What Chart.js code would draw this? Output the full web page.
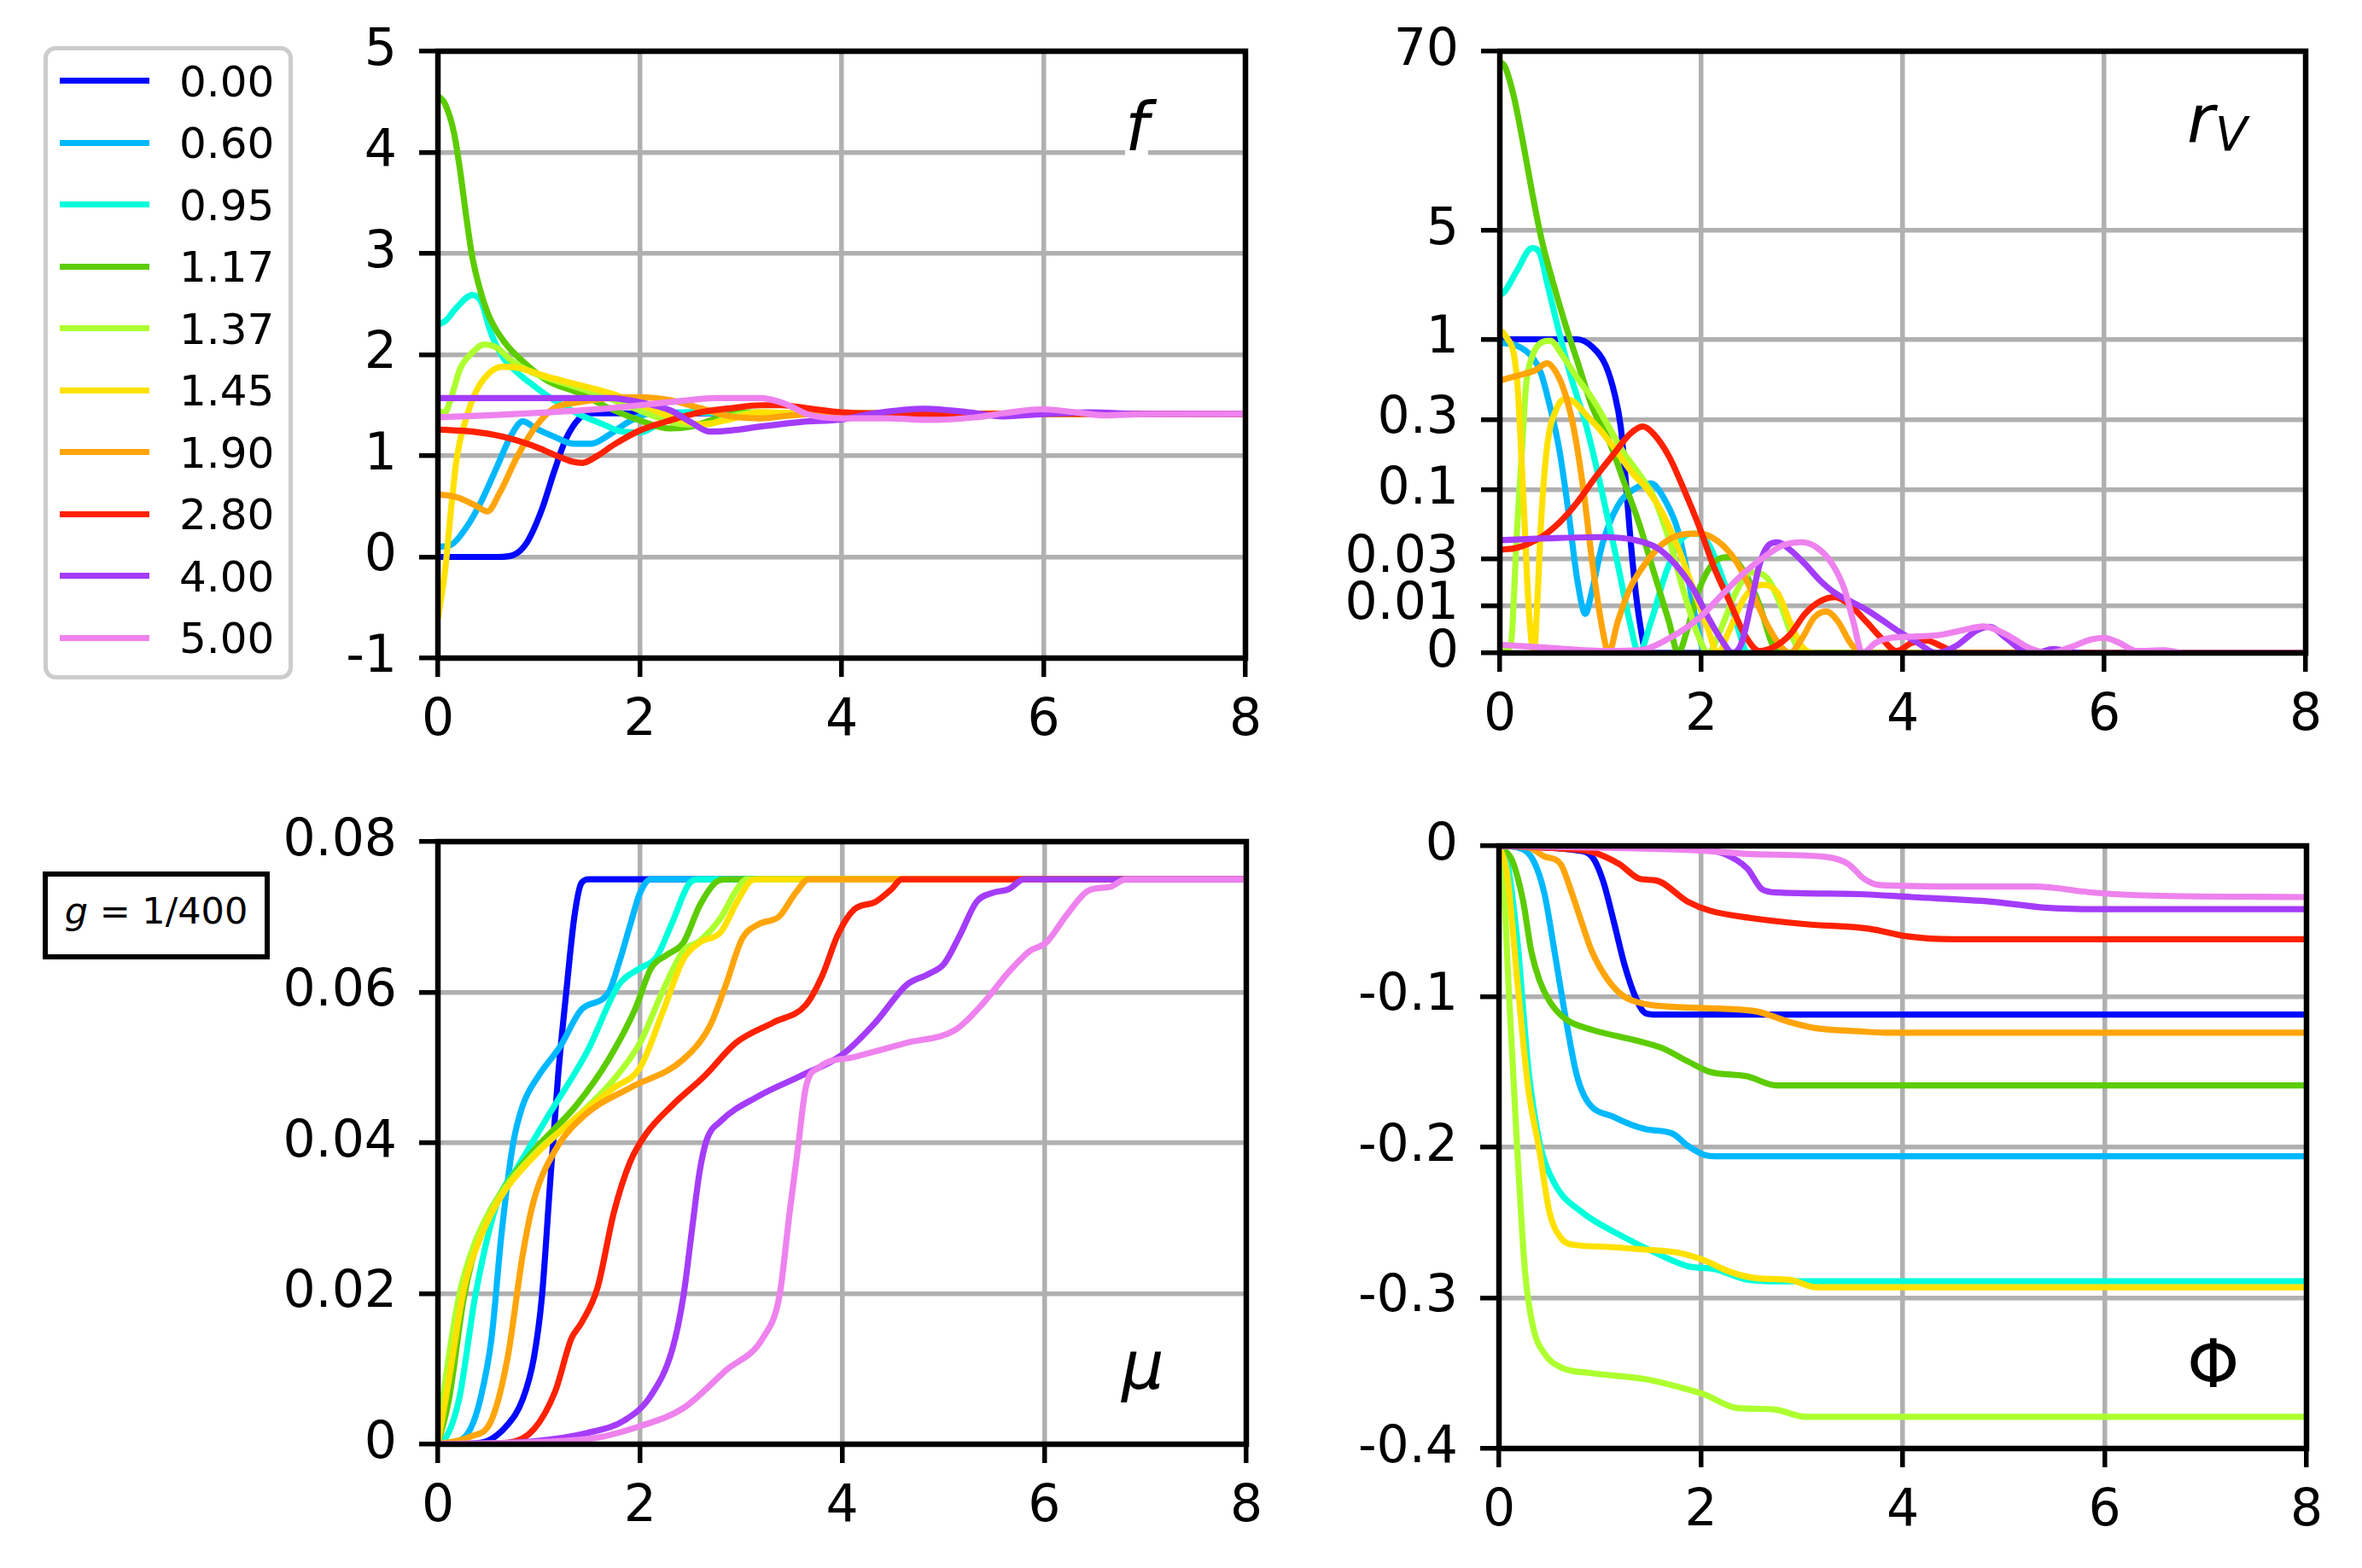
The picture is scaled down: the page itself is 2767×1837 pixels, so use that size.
<!DOCTYPE html>
<html>
<head>
<meta charset="utf-8">
<script src="https://cdn.jsdelivr.net/npm/chart.js@4/dist/chart.umd.min.js"></script>
<style>
  body { margin: 0; background: #fff; }
  #page { position: relative; width: 2767px; height: 1837px; background: #fff; overflow: hidden; font-family: 'DejaVu Sans', sans-serif; color: #000; }
  #page canvas { position: absolute; }
  .lbl { position: absolute; font-size: 78px; line-height: 78px; white-space: nowrap; background: #fff; }
  .sub { position: absolute; font-size: 55px; line-height: 55px; font-style: italic; white-space: nowrap; }
  #legend { position: absolute; left: 51px; top: 54px; width: 292px; height: 742px; box-sizing: border-box; border: 5px solid #cccccc; border-radius: 14px; background: #fff; }
  .legLine { position: absolute; left: 70px; width: 105px; height: 7px; }
  .legTxt { position: absolute; left: 210px; font-size: 50px; line-height: 50px; white-space: nowrap; }
  #gbox { position: absolute; left: 50px; top: 1021px; width: 266px; height: 103px; box-sizing: border-box; border: 6px solid #000; background: #fff; }
  #gbox span { position: absolute; left: 0; width: 100%; top: 19px; text-align: center; font-size: 43px; line-height: 43px; white-space: nowrap; }
</style>
</head>
<body>
<div id="page"><div id="charts"></div></div>
<script>
// series names and colours
const seriesLabels = ['0.00', '0.60', '0.95', '1.17', '1.37', '1.45', '1.90', '2.80', '4.00', '5.00'];
const seriesColors = ['#0008ff', '#00b8ff', '#00ffdc', '#5ccc00', '#adff2f', '#ffe100', '#ffa50a', '#ff2100', '#a43cfa', '#ee82ee'];

const xTicks = [0, 2, 4, 6, 8];
const rvTickValues = [0, 0.01, 0.03, 0.1, 0.3, 1, 5, 70];

// ---- f ----
const f000 = [[0,0],[0.6,0],[0.75,0.02],[0.88,0.14],[1.03,0.47],[1.15,0.84],[1.27,1.17],[1.4,1.37],[1.5,1.42],[2,1.42],[3,1.42],[4,1.415],[8,1.414]];
const f060 = [[0,0.1],[0.13,0.12],[0.28,0.29],[0.43,0.55],[0.58,0.88],[0.73,1.21],[0.84,1.34],[0.97,1.27],[1.15,1.19],[1.34,1.12],[1.52,1.12],[1.7,1.21],[1.88,1.33],[2.06,1.41],[2.5,1.43],[3,1.42],[8,1.414]];
const f095 = [[0,2.3],[0.07,2.33],[0.19,2.47],[0.34,2.59],[0.43,2.52],[0.52,2.23],[0.64,1.98],[0.79,1.82],[0.94,1.7],[1.15,1.55],[1.4,1.41],[1.64,1.31],[1.82,1.24],[2.0,1.23],[2.18,1.31],[2.45,1.43],[3,1.42],[8,1.414]];
const f117 = [[0,4.56],[0.07,4.48],[0.16,4.19],[0.22,3.82],[0.28,3.37],[0.34,2.97],[0.43,2.6],[0.52,2.35],[0.67,2.11],[0.88,1.9],[1.09,1.74],[1.4,1.62],[1.7,1.47],[2.0,1.35],[2.3,1.27],[2.51,1.29],[2.76,1.37],[3.06,1.43],[3.5,1.42],[8,1.414]];
const f137 = [[0,1.44],[0.07,1.43],[0.13,1.57],[0.22,1.86],[0.34,2.02],[0.46,2.1],[0.58,2.07],[0.73,1.94],[0.94,1.82],[1.24,1.72],[1.55,1.62],[1.85,1.51],[2.15,1.39],[2.45,1.31],[2.66,1.31],[2.9,1.39],[3.2,1.43],[3.6,1.42],[8,1.414]];
const f145 = [[0,-0.61],[0.07,-0.14],[0.13,0.47],[0.19,1.0],[0.28,1.37],[0.37,1.62],[0.49,1.8],[0.64,1.88],[0.79,1.87],[1.09,1.78],[1.4,1.7],[1.7,1.62],[2.0,1.51],[2.3,1.39],[2.6,1.31],[2.85,1.35],[3.2,1.43],[3.6,1.42],[8,1.414]];
const f190 = [[0,0.62],[0.19,0.59],[0.37,0.51],[0.49,0.45],[0.61,0.63],[0.79,1.0],[0.97,1.29],[1.15,1.47],[1.4,1.53],[1.7,1.57],[2.0,1.58],[2.3,1.55],[2.6,1.47],[2.9,1.39],[3.2,1.37],[3.5,1.4],[4,1.42],[8,1.414]];
const f280 = [[0,1.26],[0.34,1.24],[0.64,1.19],[0.94,1.1],[1.18,1.0],[1.34,0.94],[1.43,0.93],[1.58,1.0],[1.76,1.12],[2.0,1.25],[2.3,1.35],[2.6,1.43],[2.9,1.47],[3.2,1.5],[3.4,1.5],[3.66,1.47],[4.0,1.43],[4.4,1.42],[5,1.414],[8,1.414]];
const f400 = [[0,1.57],[1.0,1.57],[1.7,1.57],[2.0,1.53],[2.3,1.45],[2.51,1.33],[2.69,1.24],[2.9,1.25],[3.2,1.29],[3.6,1.335],[4.0,1.36],[4.32,1.42],[4.83,1.466],[5.26,1.43],[5.6,1.39],[5.95,1.41],[6.46,1.43],[7,1.414],[8,1.414]];
const f500 = [[0,1.38],[0.49,1.4],[1.09,1.43],[1.7,1.47],[2.3,1.53],[2.76,1.57],[3.2,1.57],[3.45,1.51],[3.66,1.41],[4.0,1.37],[4.46,1.37],[4.89,1.355],[5.32,1.38],[5.6,1.42],[5.98,1.46],[6.32,1.43],[6.6,1.4],[7.03,1.413],[8,1.414]];

// ---- r_V ----
const r000 = [[0,1],[0.77,1],[0.92,0.89],[1.05,0.68],[1.14,0.44],[1.2,0.27],[1.24,0.14],[1.29,0.05],[1.35,0.0141],[1.41,0.003],[1.45,0],[8,0]];
const r060 = [[0,0.95],[0.17,0.91],[0.32,0.77],[0.41,0.6],[0.5,0.36],[0.59,0.19],[0.68,0.071],[0.77,0.019],[0.85,0.0078],[0.91,0.0141],[1.02,0.04],[1.17,0.077],[1.32,0.1],[1.5,0.111],[1.65,0.082],[1.77,0.05],[1.86,0.0227],[1.95,0.0058],[2.04,0],[8,0]];
const r095 = [[0,1.92],[0.05,2.04],[0.17,2.76],[0.32,3.86],[0.4,3.53],[0.47,2.3],[0.59,1.1],[0.71,0.56],[0.86,0.27],[1.01,0.1],[1.17,0.027],[1.29,0.0058],[1.38,0],[1.5,0.0058],[1.65,0.0227],[1.8,0.043],[1.95,0.048],[2.07,0.04],[2.22,0.019],[2.37,0.004],[2.46,0],[8,0]];
const r117 = [[0,60],[0.05,56],[0.14,35.7],[0.23,18.3],[0.32,8.8],[0.41,4.51],[0.53,2.3],[0.65,1.25],[0.77,0.72],[0.92,0.36],[1.08,0.22],[1.23,0.115],[1.38,0.058],[1.53,0.0227],[1.68,0.0058],[1.77,0],[1.86,0.004],[1.98,0.0157],[2.13,0.0281],[2.28,0.031],[2.43,0.0227],[2.58,0.0101],[2.7,0.0016],[2.79,0],[8,0]];
const r137 = [[0,0],[0.05,0.0003],[0.11,0.0015],[0.17,0.05],[0.22,0.19],[0.26,0.5],[0.32,0.77],[0.41,0.95],[0.5,0.98],[0.62,0.79],[0.77,0.56],[0.92,0.41],[1.08,0.27],[1.23,0.18],[1.38,0.13],[1.53,0.088],[1.68,0.043],[1.83,0.0141],[1.98,0.0024],[2.07,0],[2.19,0.004],[2.34,0.0141],[2.49,0.0227],[2.64,0.0208],[2.79,0.0101],[2.91,0.0024],[3.0,0],[8,0]];
const r145 = [[0,1.14],[0.05,1.07],[0.17,0.56],[0.23,0.1],[0.29,0.008],[0.34,0],[0.37,0.01],[0.41,0.06],[0.47,0.2],[0.56,0.35],[0.65,0.41],[0.74,0.39],[0.86,0.32],[1.01,0.25],[1.17,0.18],[1.32,0.13],[1.47,0.1],[1.62,0.067],[1.77,0.037],[1.92,0.0157],[2.07,0.004],[2.16,0],[2.28,0.004],[2.43,0.0127],[2.61,0.0173],[2.76,0.0141],[2.88,0.0058],[3.0,0.001],[3.12,0],[8,0]];
const r190 = [[0,0.54],[0.17,0.58],[0.35,0.63],[0.47,0.7],[0.56,0.61],[0.65,0.44],[0.74,0.25],[0.83,0.1],[0.92,0.027],[1.02,0.004],[1.08,0],[1.17,0.0058],[1.29,0.0157],[1.44,0.027],[1.62,0.04],[1.8,0.047],[1.98,0.048],[2.16,0.042],[2.34,0.029],[2.49,0.0157],[2.64,0.0058],[2.79,0.001],[2.88,0],[3.0,0.0024],[3.12,0.0068],[3.24,0.0084],[3.36,0.0058],[3.48,0.0016],[3.6,0],[8,0]];
const r280 = [[0,0.0357],[0.17,0.037],[0.41,0.045],[0.59,0.058],[0.77,0.082],[0.95,0.123],[1.14,0.18],[1.29,0.24],[1.42,0.27],[1.53,0.24],[1.68,0.17],[1.83,0.1],[1.98,0.054],[2.13,0.0248],[2.28,0.0114],[2.43,0.0031],[2.58,0.0003],[2.73,0.001],[2.88,0.0031],[3.03,0.0078],[3.18,0.0114],[3.33,0.0127],[3.48,0.0101],[3.64,0.0058],[3.79,0.0024],[3.94,0.0003],[4.09,0.0016],[4.24,0.002],[4.39,0.001],[4.54,0],[8,0]];
const r400 = [[0,0.0426],[0.47,0.044],[1.01,0.045],[1.32,0.043],[1.56,0.037],[1.74,0.027],[1.92,0.0157],[2.07,0.0068],[2.22,0.0016],[2.31,0],[2.4,0.0016],[2.49,0.0101],[2.58,0.027],[2.67,0.039],[2.76,0.041],[2.88,0.0357],[3.03,0.027],[3.18,0.019],[3.33,0.0141],[3.48,0.0114],[3.64,0.0089],[3.79,0.0063],[3.97,0.0036],[4.15,0.0016],[4.33,0],[4.52,0.001],[4.74,0.004],[4.86,0.0047],[5.03,0.0024],[5.19,0.0003],[5.31,0],[5.5,0.0006],[5.65,0.0002],[5.8,0],[8,0]];
const r500 = [[0,0.0013],[0.47,0.0008],[1.08,0.0003],[1.38,0.0004],[1.68,0.0024],[1.98,0.0068],[2.22,0.0141],[2.43,0.0227],[2.64,0.0318],[2.82,0.039],[3.0,0.041],[3.15,0.037],[3.3,0.027],[3.42,0.0157],[3.51,0.0058],[3.6,0],[3.73,0.0016],[3.88,0.0025],[4.09,0.0027],[4.39,0.0031],[4.6,0.004],[4.8,0.0048],[5.03,0.0031],[5.25,0.0008],[5.45,0],[5.65,0.0008],[5.87,0.0022],[6.0,0.0025],[6.15,0.0016],[6.32,0.0003],[6.6,0.0004],[6.8,0],[8,0]];

// ---- mu ----
const m000 = [[0,0],[0.42,0.0002],[0.69,0.0026],[0.84,0.006],[0.95,0.0115],[1.03,0.0197],[1.11,0.0346],[1.19,0.049],[1.27,0.06],[1.35,0.07],[1.42,0.0745],[1.5,0.075],[8,0.075]];
const m060 = [[0,0],[0.16,0.0002],[0.32,0.002],[0.42,0.006],[0.53,0.014],[0.63,0.028],[0.74,0.0396],[0.84,0.045],[1.0,0.049],[1.21,0.0528],[1.42,0.0577],[1.69,0.06],[1.79,0.0638],[1.9,0.0688],[2.0,0.0732],[2.11,0.075],[8,0.075]];
const m095 = [[0,0],[0.05,0.0003],[0.21,0.006],[0.37,0.0197],[0.58,0.0318],[0.79,0.0368],[1.11,0.044],[1.48,0.0522],[1.79,0.061],[2.0,0.0632],[2.16,0.0646],[2.32,0.0693],[2.48,0.0743],[2.59,0.075],[8,0.075]];
const m117 = [[0,0],[0.11,0.006],[0.26,0.0197],[0.42,0.028],[0.63,0.0335],[0.95,0.039],[1.37,0.045],[1.69,0.0511],[1.95,0.0577],[2.11,0.0632],[2.27,0.065],[2.43,0.0666],[2.59,0.0715],[2.74,0.0745],[2.85,0.075],[8,0.075]];
const m137 = [[0,0],[0.05,0.006],[0.21,0.0197],[0.37,0.0269],[0.58,0.0324],[0.95,0.0385],[1.37,0.0434],[1.74,0.0484],[2.0,0.0533],[2.22,0.06],[2.43,0.0655],[2.59,0.0668],[2.8,0.0699],[2.96,0.0737],[3.06,0.075],[8,0.075]];
const m145 = [[0,0],[0.11,0.0087],[0.26,0.0208],[0.42,0.0274],[0.63,0.033],[0.95,0.0382],[1.37,0.0434],[1.74,0.0473],[2.0,0.05],[2.22,0.0572],[2.43,0.0644],[2.59,0.0666],[2.8,0.068],[2.96,0.072],[3.11,0.0749],[3.17,0.075],[8,0.075]];
const m190 = [[0,0],[0.32,0.001],[0.53,0.0032],[0.69,0.0115],[0.84,0.0252],[0.95,0.0324],[1.16,0.039],[1.48,0.044],[1.9,0.0473],[2.43,0.0511],[2.69,0.0555],[2.85,0.061],[3.01,0.0671],[3.17,0.069],[3.38,0.0701],[3.54,0.0732],[3.67,0.075],[8,0.075]];
const m280 = [[0,0],[0.69,0.0002],[0.95,0.002],[1.16,0.007],[1.32,0.014],[1.42,0.0161],[1.58,0.0208],[1.74,0.0307],[1.9,0.0374],[2.06,0.0412],[2.32,0.045],[2.64,0.0489],[2.95,0.0533],[3.32,0.056],[3.64,0.0583],[3.8,0.0621],[3.96,0.0677],[4.12,0.071],[4.33,0.072],[4.49,0.0737],[4.59,0.075],[8,0.075]];
const m400 = [[0,0],[0.95,0.0004],[1.48,0.0015],[1.85,0.0032],[2.11,0.0065],[2.32,0.0126],[2.43,0.0197],[2.51,0.028],[2.59,0.0362],[2.66,0.0404],[2.8,0.0429],[3.17,0.0462],[3.59,0.0489],[4.0,0.0517],[4.33,0.056],[4.64,0.061],[4.85,0.0624],[5.01,0.0638],[5.17,0.0677],[5.33,0.072],[5.49,0.0732],[5.65,0.0737],[5.8,0.075],[8,0.075]];
const m500 = [[0,0],[1.48,0.0007],[2.0,0.0024],[2.43,0.0048],[2.85,0.0098],[3.22,0.0142],[3.38,0.0197],[3.48,0.0307],[3.56,0.039],[3.64,0.0473],[3.77,0.05],[4.12,0.0514],[4.64,0.0533],[5.12,0.055],[5.38,0.0583],[5.65,0.0627],[5.86,0.0655],[6.02,0.0666],[6.23,0.0704],[6.44,0.0735],[6.65,0.074],[6.81,0.075],[8,0.075]];

// ---- Phi ----
const p000 = [[0,0],[0.77,-0.003],[0.92,-0.007],[1.03,-0.023],[1.14,-0.051],[1.24,-0.078],[1.35,-0.1],[1.45,-0.111],[1.56,-0.112],[8,-0.112]];
const p060 = [[0,0],[0.18,-0.001],[0.34,-0.0096],[0.45,-0.0316],[0.55,-0.07],[0.66,-0.114],[0.77,-0.152],[0.87,-0.169],[1.14,-0.18],[1.45,-0.188],[1.72,-0.191],[1.87,-0.199],[2.03,-0.205],[2.14,-0.206],[8,-0.206]];
const p095 = [[0,0],[0.08,-0.01],[0.185,-0.065],[0.29,-0.147],[0.4,-0.196],[0.55,-0.224],[0.82,-0.243],[1.19,-0.258],[1.61,-0.272],[1.87,-0.279],[2.14,-0.281],[2.46,-0.288],[2.72,-0.289],[8,-0.289]];
const p117 = [[0,0],[0.13,-0.0096],[0.24,-0.037],[0.32,-0.07],[0.4,-0.089],[0.5,-0.103],[0.66,-0.115],[0.92,-0.122],[1.35,-0.129],[1.61,-0.134],[1.87,-0.143],[2.09,-0.15],[2.46,-0.153],[2.75,-0.159],[8,-0.159]];
const p137 = [[0,0],[0.05,-0.03],[0.1,-0.1],[0.18,-0.2],[0.26,-0.284],[0.34,-0.32],[0.45,-0.337],[0.61,-0.346],[0.92,-0.35],[1.45,-0.354],[1.77,-0.359],[2.03,-0.364],[2.35,-0.373],[2.72,-0.374],[3.04,-0.379],[8,-0.379]];
const p145 = [[0,0],[0.08,-0.018],[0.185,-0.092],[0.29,-0.161],[0.4,-0.202],[0.5,-0.243],[0.61,-0.26],[0.77,-0.265],[1.03,-0.266],[1.45,-0.268],[1.77,-0.27],[2.03,-0.275],[2.3,-0.283],[2.56,-0.287],[2.88,-0.288],[3.14,-0.293],[8,-0.293]];
const p190 = [[0,0],[0.29,-0.001],[0.45,-0.007],[0.61,-0.012],[0.71,-0.029],[0.82,-0.051],[0.92,-0.07],[1.08,-0.089],[1.24,-0.1],[1.45,-0.105],[1.77,-0.107],[2.19,-0.108],[2.56,-0.11],[2.88,-0.117],[3.14,-0.121],[3.56,-0.123],[3.83,-0.124],[8,-0.124]];
const p280 = [[0,0],[0.66,-0.002],[0.92,-0.004],[1.19,-0.012],[1.4,-0.022],[1.56,-0.023],[1.87,-0.037],[2.09,-0.043],[2.51,-0.048],[3.04,-0.052],[3.67,-0.055],[4.04,-0.06],[4.51,-0.062],[8,-0.062]];
const p400 = [[0,0],[1.45,-0.001],[1.98,-0.002],[2.24,-0.0055],[2.46,-0.015],[2.61,-0.029],[2.77,-0.031],[3.56,-0.032],[4.09,-0.034],[4.88,-0.037],[5.41,-0.041],[5.94,-0.042],[8,-0.042]];
const p500 = [[0,0],[1.98,-0.003],[2.51,-0.0055],[3.25,-0.0074],[3.46,-0.012],[3.62,-0.022],[3.77,-0.026],[4.62,-0.027],[5.31,-0.027],[5.89,-0.031],[6.47,-0.033],[8,-0.034]];

const fSeries = [f000, f060, f095, f117, f137, f145, f190, f280, f400, f500];
const rvSeries = [r000, r060, r095, r117, r137, r145, r190, r280, r400, r500];
const muSeries = [m000, m060, m095, m117, m137, m145, m190, m280, m400, m500];
const phiSeries = [p000, p060, p095, p117, p137, p145, p190, p280, p400, p500];

// plot area of each panel on the page: left, top, right, bottom
const AXIS_W = 250, AXIS_H = 110, PAD_TOP = 90, PAD_RIGHT = 40;
const boxF = [513, 60, 1459, 771];
const boxRv = [1757, 60, 2701, 765];
const boxMu = [513, 986, 1460, 1692];
const boxPhi = [1756, 991, 2702, 1697];

// r_V axis: y -> log10(1 + y/0.01)
function rvT(v) { return Math.log10(1 + Math.max(v, 0) / 0.01); }
function rvInv(t) { return 0.01 * (Math.pow(10, t) - 1); }

class RvScale extends Chart.Scale {
  determineDataLimits() {
    this.min = this.options.min;
    this.max = this.options.max;
  }
  buildTicks() {
    return rvTickValues.map(v => ({ value: v }));
  }
  getLabelForValue(v) { return String(v); }
  configure() {
    super.configure();
    this._startValue = rvT(this.min);
    this._valueRange = rvT(this.max) - rvT(this.min);
  }
  getPixelForValue(value) {
    return this.getPixelForDecimal((rvT(value) - this._startValue) / this._valueRange);
  }
  getValueForPixel(pixel) {
    return rvInv(this._startValue + this.getDecimalForPixel(pixel) * this._valueRange);
  }
}
RvScale.id = 'rvscale';
RvScale.defaults = {};
Chart.register(RvScale);

const framePlugin = {
  id: 'frame',
  afterDatasetsDraw(chart) {
    const { ctx, chartArea: a } = chart;
    ctx.save();
    ctx.strokeStyle = '#000';
    ctx.lineWidth = 6.5;
    ctx.strokeRect(a.left, a.top, a.right - a.left, a.bottom - a.top);
    ctx.restore();
  }
};

const tickFont = { family: 'DejaVu Sans', size: 60 };
function gridOpts() {
  return { color: '#b0b0b0', lineWidth: 5.5, drawTicks: true, tickLength: 22, tickColor: '#000', tickWidth: 5.5 };
}
function fmt(v) { return String(+Number(v).toFixed(4)); }

function makeChart(box, seriesList, yOpts) {
  const [L, T, R, B] = box;
  const cv = document.createElement('canvas');
  cv.width = R - L + AXIS_W + PAD_RIGHT;
  cv.height = B - T + PAD_TOP + AXIS_H;
  cv.style.left = (L - AXIS_W) + 'px';
  cv.style.top = (T - PAD_TOP) + 'px';
  document.getElementById('charts').appendChild(cv);

  const datasets = seriesList.map((s, i) => ({
    label: seriesLabels[i],
    data: s.map(p => ({ x: p[0], y: p[1] })),
    borderColor: seriesColors[i],
    borderWidth: 7.2,
    pointRadius: 0,
    fill: false,
    cubicInterpolationMode: 'monotone',
    order: seriesList.length - i
  }));

  new Chart(cv, {
    type: 'line',
    data: { datasets: datasets },
    options: {
      responsive: false,
      animation: false,
      devicePixelRatio: 1,
      layout: { padding: { left: 0, top: PAD_TOP, right: PAD_RIGHT, bottom: 0 } },
      plugins: { legend: { display: false }, tooltip: { enabled: false } },
      scales: {
        x: {
          type: 'linear', min: 0, max: 8,
          afterBuildTicks: s => { s.ticks = xTicks.map(v => ({ value: v })); },
          ticks: { font: tickFont, color: '#000', padding: 16, maxRotation: 0, autoSkip: false, callback: fmt },
          grid: gridOpts(),
          border: { display: false },
          afterFit: s => { s.height = AXIS_H; }
        },
        y: Object.assign({
          grid: gridOpts(),
          border: { display: false },
          afterFit: s => { s.width = AXIS_W; }
        }, yOpts)
      }
    },
    plugins: [framePlugin]
  });
}

function yTicks(lo, hi, step) {
  return { type: 'linear', min: lo, max: hi,
    ticks: { font: tickFont, color: '#000', padding: 26, autoSkip: false, stepSize: step, callback: fmt } };
}

makeChart(boxF, fSeries, yTicks(-1, 5, 1));
makeChart(boxRv, rvSeries, { type: 'rvscale', min: 0, max: 70,
  ticks: { font: tickFont, color: '#000', padding: 26, autoSkip: false } });
makeChart(boxMu, muSeries, yTicks(0, 0.08, 0.02));
makeChart(boxPhi, phiSeries, yTicks(-0.4, 0, 0.1));

// legend
const page = document.getElementById('page');
const legend = document.createElement('div');
legend.id = 'legend';
page.appendChild(legend);
seriesLabels.forEach((lab, i) => {
  const rowY = 94.7 + 72.5 * i;
  const ln = document.createElement('div');
  ln.className = 'legLine';
  ln.style.top = (rowY - 3.5) + 'px';
  ln.style.background = seriesColors[i];
  page.appendChild(ln);
  const tx = document.createElement('div');
  tx.className = 'legTxt';
  tx.style.top = (rowY - 24) + 'px';
  tx.textContent = lab;
  page.appendChild(tx);
});

// panel labels
function addLabel(html, left, top, cls) {
  const d = document.createElement('div');
  d.className = cls || 'lbl';
  d.style.left = left + 'px';
  d.style.top = top + 'px';
  d.innerHTML = html;
  page.appendChild(d);
}
addLabel('<i>f</i>', 1318, 110);
addLabel('<i>r</i>', 2562, 101);
addLabel('V', 2595, 130, 'sub');
addLabel('<i>μ</i>', 1314, 1561);
addLabel('Φ', 2562, 1559);

const g = document.createElement('div');
g.id = 'gbox';
g.innerHTML = '<span><i>g</i> = 1/400</span>';
page.appendChild(g);
</script>
</body>
</html>
